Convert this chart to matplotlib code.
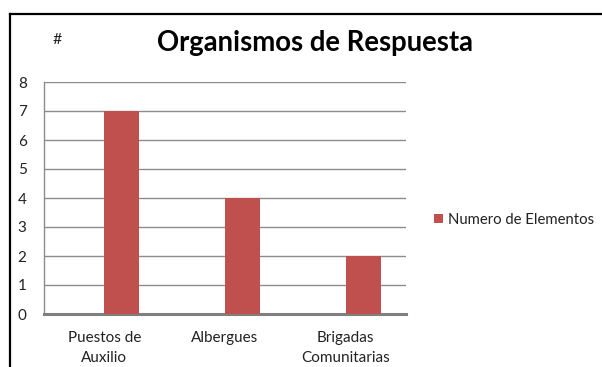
import matplotlib.pyplot as plt
import numpy as np
from matplotlib.lines import Line2D

categories = ['Puestos de\nAuxilio', 'Albergues', 'Brigadas\nComunitarias']
elementos = [7, 4, 2]
y_ticks = [0, 1, 2, 3, 4, 5, 6, 7, 8]

bar_color = '#C0504D'
grid_color = '#8C8C8C'

plt.rcParams['font.family'] = ['Lato', 'DejaVu Sans']

fig = plt.figure(figsize=(6.02, 3.67), dpi=100)
ax = fig.add_axes([44/602, 1 - 314/367, (406 - 44)/602, (314 - 82)/367])

x = np.arange(len(categories))
ax.bar(x + 0.145, elementos, width=0.29, color=bar_color, label='Numero de Elementos', zorder=3)

ax.set_xlim(-0.5, len(categories) - 0.5)
ax.set_ylim(0, 8)
ax.set_yticks(y_ticks)
ax.set_xticks(x)
ax.set_xticklabels(categories, fontsize=11, color='#222222', linespacing=1.55)
ax.tick_params(axis='y', length=0, labelsize=11, labelcolor='#222222', pad=12.5)
ax.tick_params(axis='x', length=0, pad=12)

ax.grid(axis='y', color=grid_color, linewidth=1.0, zorder=1)
for side in ['top', 'right']:
    ax.spines[side].set_visible(False)
ax.spines['left'].set_color(grid_color)
ax.spines['left'].set_linewidth(1.0)
ax.spines['bottom'].set_color('#7F7F7F')
ax.spines['bottom'].set_linewidth(2.2)

# title and the lone "#" axis marker
fig.text(315/602, 1 - 43/367, 'Organismos de Respuesta', ha='center', va='center',
         fontsize=19.8, fontweight='bold', color='black')
fig.text(57/602, 1 - 40/367, '#', ha='center', va='center', fontsize=11.5, color='#222222')

ax.legend(loc='center left', bbox_to_anchor=(421/602, 1 - 220/367), bbox_transform=fig.transFigure,
          frameon=False, fontsize=10.7, handlelength=0.6, handleheight=0.6, handletextpad=0.3,
          labelcolor='#222222')

# chart frame (top and left edges)
fig.add_artist(Line2D([10/602, 1], [1 - 14/367, 1 - 14/367], color='black', linewidth=1.6))
fig.add_artist(Line2D([10/602, 10/602], [0, 1 - 14/367], color='black', linewidth=1.6))

fig.savefig('out.png', dpi=100)
